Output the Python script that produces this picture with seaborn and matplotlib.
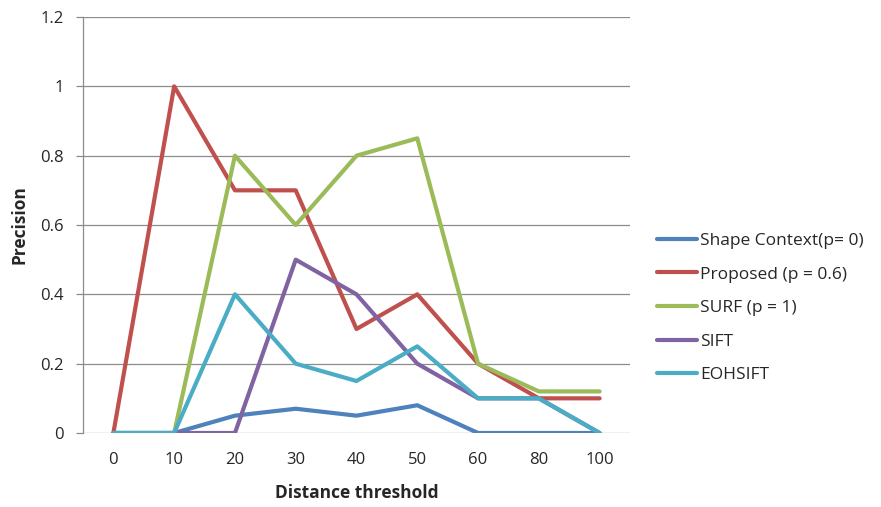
import pandas as pd
import matplotlib
matplotlib.use("Agg")
import matplotlib.pyplot as plt
import seaborn as sns
from matplotlib.ticker import FuncFormatter

# chart data
thresholds = ["0", "10", "20", "30", "40", "50", "60", "80", "100"]
shape_context = [0, 0, 0.05, 0.07, 0.05, 0.08, 0, 0, 0]
proposed = [0, 1.0, 0.7, 0.7, 0.3, 0.4, 0.2, 0.1, 0.1]
surf = [0, 0, 0.8, 0.6, 0.8, 0.85, 0.2, 0.12, 0.12]
sift = [0, 0, 0, 0.5, 0.4, 0.2, 0.1, 0.1, 0]
eohsift = [0, 0, 0.4, 0.2, 0.15, 0.25, 0.1, 0.1, 0]

series_names = ["Shape Context(p= 0)", "Proposed (p = 0.6)", "SURF (p = 1)", "SIFT", "EOHSIFT"]
series_values = [shape_context, proposed, surf, sift, eohsift]
colors = ["#4F81BD", "#C0504D", "#9BBB59", "#8064A2", "#4BACC6"]

rows = []
for name, vals in zip(series_names, series_values):
    for i, v in enumerate(vals):
        rows.append({"pos": i, "Precision": v, "series": name})
df = pd.DataFrame(rows)

sns.set_theme(style="white")
plt.rcParams['font.family'] = ['Open Sans', 'DejaVu Sans']

fig = plt.figure(figsize=(8.81, 5.07), dpi=100)
ax = fig.add_axes([83 / 881, 74 / 507, 547 / 881, 416 / 507])

sns.lineplot(data=df, x="pos", y="Precision", hue="series", hue_order=series_names,
             palette=colors, linewidth=3, ax=ax, legend=True)

ax.set_xlim(-0.5, len(thresholds) - 0.5)
ax.set_ylim(0, 1.2)
ax.set_xticks(range(len(thresholds)))
ax.set_xticklabels(thresholds)
ax.set_yticks([0, 0.2, 0.4, 0.6, 0.8, 1.0, 1.2])
ax.yaxis.set_major_formatter(FuncFormatter(lambda v, p: f"{v:g}"))
ax.grid(axis="y", color="#8c8c8c", linewidth=0.9)
ax.set_axisbelow(True)
for side in ["top", "right", "bottom"]:
    ax.spines[side].set_visible(False)
ax.spines["left"].set_color("#8c8c8c")
ax.spines["left"].set_linewidth(0.9)
ax.tick_params(axis="y", length=5, color="#8c8c8c", width=0.9, left=True, labelsize=12, pad=9)
ax.tick_params(axis="x", length=0, labelsize=12, pad=14)

ax.set_xlabel("Distance threshold", fontsize=12.5, fontweight="bold", labelpad=11)
ax.set_ylabel("Precision", fontsize=12.5, fontweight="bold", labelpad=8)

leg = ax.legend(loc="center left", bbox_to_anchor=(641 / 881, 1 - 308 / 507),
                bbox_transform=fig.transFigure, frameon=False,
                fontsize=12.5, handlelength=2.3, handletextpad=0.2, labelspacing=1.0)

fig.savefig("out.png", dpi=100)
